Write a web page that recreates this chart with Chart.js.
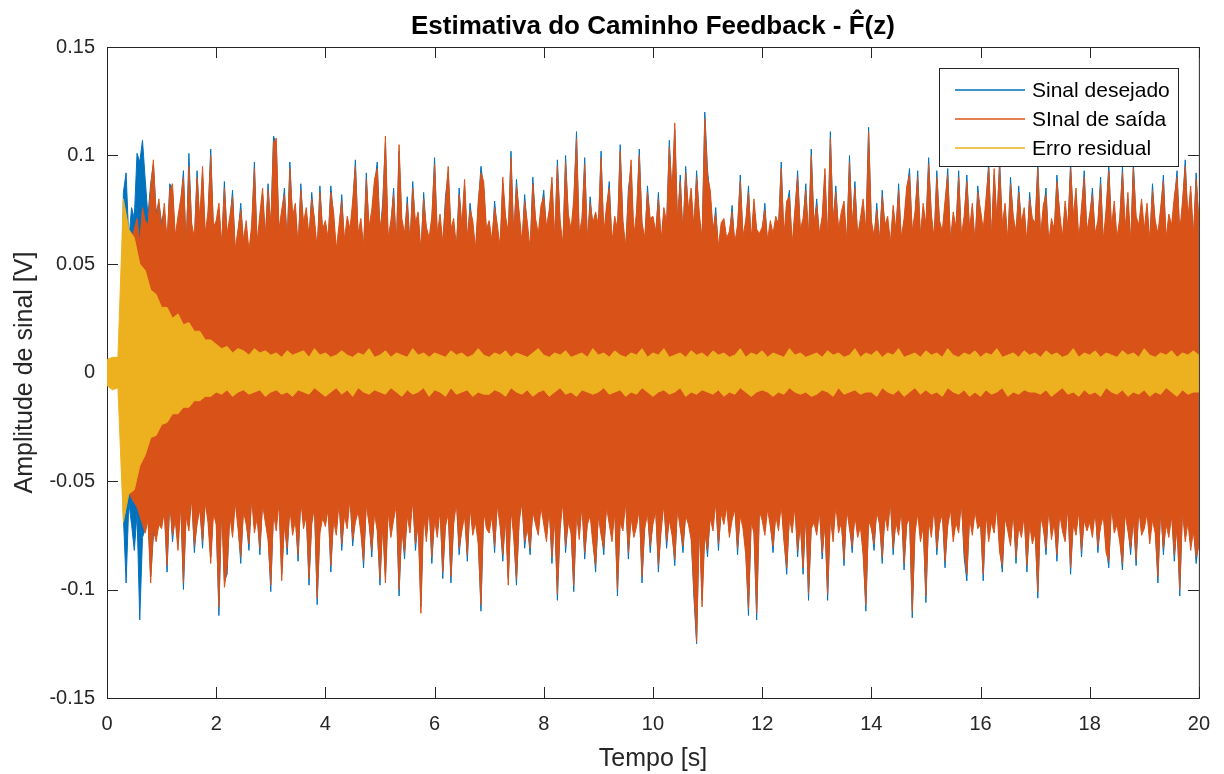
<!DOCTYPE html>
<html lang="pt-BR">
<head>
<meta charset="UTF-8">
<title>Estimativa do Caminho Feedback</title>
<script src="https://cdn.jsdelivr.net/npm/chart.js"></script>
<style>
  html, body { margin: 0; padding: 0; background: #fff; }
  #wrap { width: 1224px; height: 774px; }
</style>
</head>
<body>
<div id="wrap"><canvas id="grafico"></canvas></div>
<script>
// passo de tempo das envoltorias (s)
const passoSinal = 0.05;
const passoErro = 0.1;

const rotulos = ['Sinal desejado', 'SInal de saída', 'Erro residual'];
const cores = ['#0072BD', '#D95319', '#EDB120'];
const ticksX = [0, 2, 4, 6, 8, 10, 12, 14, 16, 18, 20];
const ticksY = [-0.15, -0.1, -0.05, 0, 0.05, 0.1, 0.15];

// Sinal desejado: picos positivos e negativos a cada 0.05 s
const desejadoPos = [
  0.005,0.006,0.004,0.006,0.005,0.006,0.083,0.092,0.061,0.076,0.071,0.101,0.097,0.107,0.089,0.072,0.087,0.096,0.074,0.078,
  0.069,0.075,0.058,0.087,0.084,0.06,0.069,0.077,0.093,0.055,0.101,0.066,0.059,0.093,0.067,0.092,0.061,0.071,0.103,0.064,
  0.067,0.075,0.056,0.088,0.061,0.069,0.084,0.054,0.063,0.078,0.058,0.067,0.053,0.065,0.097,0.057,0.07,0.082,0.06,0.087,
  0.065,0.109,0.105,0.063,0.072,0.085,0.058,0.097,0.069,0.075,0.055,0.087,0.066,0.073,0.06,0.083,0.068,0.054,0.086,0.063,
  0.067,0.059,0.086,0.071,0.054,0.065,0.082,0.058,0.069,0.063,0.076,0.098,0.061,0.068,0.055,0.092,0.064,0.072,0.086,0.097,
  0.063,0.078,0.106,0.059,0.067,0.085,0.055,0.102,0.068,0.061,0.081,0.057,0.088,0.066,0.071,0.053,0.083,0.064,0.059,0.069,
  0.099,0.061,0.07,0.057,0.081,0.092,0.063,0.068,0.055,0.085,0.065,0.086,0.059,0.078,0.067,0.054,0.076,0.095,0.085,0.063,
  0.067,0.058,0.079,0.065,0.055,0.087,0.069,0.062,0.102,0.06,0.089,0.071,0.057,0.082,0.066,0.054,0.09,0.068,0.061,0.074,
  0.084,0.064,0.072,0.087,0.059,0.098,0.067,0.056,0.1,0.07,0.063,0.077,0.111,0.061,0.068,0.099,0.058,0.081,0.066,0.071,
  0.065,0.102,0.061,0.074,0.088,0.057,0.069,0.063,0.105,0.067,0.055,0.084,0.095,0.06,0.071,0.103,0.066,0.059,0.086,0.068,
  0.069,0.062,0.083,0.058,0.073,0.066,0.107,0.08,0.112,0.067,0.091,0.061,0.095,0.072,0.082,0.064,0.093,0.07,0.059,0.12,
  0.093,0.081,0.063,0.076,0.055,0.066,0.068,0.059,0.062,0.077,0.057,0.065,0.091,0.06,0.067,0.086,0.058,0.077,0.063,0.061,
  0.064,0.078,0.058,0.067,0.061,0.069,0.065,0.097,0.06,0.076,0.084,0.056,0.072,0.093,0.063,0.068,0.087,0.059,0.103,0.066,
  0.08,0.061,0.069,0.091,0.058,0.111,0.067,0.086,0.063,0.071,0.076,0.057,0.1,0.065,0.088,0.06,0.068,0.077,0.062,0.113,
  0.067,0.06,0.078,0.058,0.084,0.065,0.069,0.057,0.074,0.063,0.087,0.059,0.068,0.083,0.094,0.062,0.071,0.093,0.06,0.075,
  0.065,0.099,0.07,0.059,0.093,0.067,0.062,0.076,0.094,0.058,0.071,0.064,0.093,0.06,0.069,0.091,0.063,0.075,0.057,0.086,
  0.072,0.063,0.077,0.097,0.059,0.091,0.067,0.098,0.065,0.075,0.058,0.09,0.069,0.062,0.086,0.066,0.073,0.057,0.083,0.068,
  0.066,0.097,0.06,0.074,0.085,0.057,0.068,0.063,0.091,0.071,0.059,0.076,0.064,0.097,0.069,0.082,0.058,0.073,0.093,0.062,
  0.07,0.085,0.061,0.067,0.09,0.058,0.072,0.096,0.064,0.076,0.059,0.068,0.095,0.063,0.08,0.057,0.097,0.069,0.065,0.077,
  0.063,0.075,0.058,0.087,0.067,0.061,0.073,0.091,0.059,0.07,0.065,0.078,0.093,0.062,0.076,0.098,0.068,0.083,0.06,0.092,
  0.067
];
const desejadoNeg = [
  -0.005,-0.006,-0.005,-0.006,-0.005,-0.006,-0.066,-0.097,-0.06,-0.07,-0.082,-0.065,-0.114,-0.076,-0.072,-0.065,-0.094,-0.075,-0.075,-0.067,
  -0.069,-0.061,-0.092,-0.057,-0.078,-0.065,-0.079,-0.058,-0.1,-0.063,-0.07,-0.055,-0.083,-0.067,-0.06,-0.081,-0.057,-0.066,-0.085,-0.062,
  -0.067,-0.112,-0.059,-0.096,-0.093,-0.063,-0.073,-0.057,-0.069,-0.088,-0.061,-0.067,-0.082,-0.055,-0.071,-0.064,-0.084,-0.058,-0.066,-0.074,
  -0.101,-0.062,-0.07,-0.057,-0.093,-0.067,-0.084,-0.06,-0.072,-0.065,-0.087,-0.056,-0.069,-0.063,-0.098,-0.067,-0.059,-0.107,-0.071,-0.064,
  -0.068,-0.06,-0.092,-0.065,-0.072,-0.057,-0.082,-0.063,-0.069,-0.055,-0.08,-0.066,-0.061,-0.071,-0.09,-0.058,-0.067,-0.085,-0.062,-0.07,
  -0.098,-0.067,-0.094,-0.061,-0.073,-0.065,-0.058,-0.103,-0.069,-0.086,-0.063,-0.071,-0.056,-0.082,-0.067,-0.108,-0.062,-0.075,-0.059,-0.088,
  -0.065,-0.073,-0.06,-0.095,-0.068,-0.062,-0.097,-0.067,-0.057,-0.084,-0.07,-0.063,-0.087,-0.059,-0.072,-0.066,-0.076,-0.11,-0.061,-0.069,
  -0.071,-0.063,-0.083,-0.058,-0.068,-0.087,-0.064,-0.095,-0.06,-0.073,-0.098,-0.066,-0.057,-0.081,-0.069,-0.084,-0.061,-0.067,-0.072,-0.059,
  -0.067,-0.075,-0.06,-0.088,-0.064,-0.105,-0.069,-0.057,-0.083,-0.066,-0.071,-0.101,-0.062,-0.074,-0.058,-0.086,-0.067,-0.063,-0.076,-0.092,
  -0.063,-0.072,-0.084,-0.059,-0.067,-0.075,-0.061,-0.103,-0.066,-0.07,-0.057,-0.086,-0.064,-0.073,-0.068,-0.06,-0.097,-0.069,-0.062,-0.083,
  -0.067,-0.061,-0.092,-0.07,-0.058,-0.081,-0.065,-0.072,-0.089,-0.06,-0.069,-0.083,-0.063,-0.067,-0.074,-0.103,-0.125,-0.066,-0.105,-0.071,
  -0.085,-0.064,-0.07,-0.057,-0.082,-0.062,-0.067,-0.059,-0.073,-0.065,-0.06,-0.084,-0.063,-0.069,-0.081,-0.112,-0.066,-0.071,-0.114,-0.061,
  -0.065,-0.072,-0.06,-0.068,-0.083,-0.063,-0.07,-0.058,-0.075,-0.093,-0.064,-0.071,-0.059,-0.085,-0.067,-0.093,-0.062,-0.105,-0.069,-0.066,
  -0.072,-0.061,-0.086,-0.067,-0.105,-0.064,-0.075,-0.058,-0.071,-0.066,-0.089,-0.06,-0.069,-0.083,-0.063,-0.073,-0.068,-0.081,-0.11,-0.065,
  -0.069,-0.082,-0.061,-0.067,-0.088,-0.063,-0.07,-0.057,-0.084,-0.066,-0.072,-0.06,-0.091,-0.067,-0.064,-0.113,-0.071,-0.062,-0.075,-0.068,
  -0.106,-0.065,-0.073,-0.059,-0.084,-0.067,-0.062,-0.09,-0.068,-0.06,-0.075,-0.066,-0.071,-0.057,-0.085,-0.096,-0.064,-0.072,-0.061,-0.069,
  -0.067,-0.096,-0.062,-0.075,-0.066,-0.071,-0.059,-0.08,-0.092,-0.064,-0.07,-0.077,-0.061,-0.088,-0.068,-0.073,-0.063,-0.092,-0.067,-0.076,
  -0.071,-0.104,-0.063,-0.069,-0.084,-0.06,-0.074,-0.066,-0.087,-0.062,-0.07,-0.075,-0.059,-0.093,-0.067,-0.072,-0.061,-0.085,-0.065,-0.07,
  -0.066,-0.073,-0.061,-0.083,-0.068,-0.063,-0.08,-0.09,-0.059,-0.071,-0.067,-0.075,-0.091,-0.062,-0.07,-0.084,-0.065,-0.089,-0.06,-0.072,
  -0.069,-0.062,-0.076,-0.065,-0.071,-0.097,-0.06,-0.084,-0.067,-0.073,-0.063,-0.087,-0.068,-0.103,-0.061,-0.075,-0.066,-0.079,-0.07,-0.088,
  -0.077
];

// Sinal de saida
const saidaPos = [
  0.004,0.005,0.003,0.006,0.004,0.005,0.045,0.052,0.058,0.062,0.066,0.071,0.06,0.076,0.07,0.068,0.085,0.098,0.071,0.08,
  0.066,0.078,0.061,0.084,0.087,0.063,0.072,0.08,0.09,0.058,0.095,0.069,0.062,0.09,0.07,0.095,0.064,0.074,0.1,0.067,
  0.07,0.078,0.059,0.085,0.064,0.072,0.081,0.057,0.066,0.075,0.061,0.07,0.056,0.068,0.094,0.06,0.073,0.085,0.063,0.084,
  0.068,0.106,0.108,0.066,0.075,0.082,0.061,0.094,0.072,0.078,0.058,0.084,0.069,0.076,0.063,0.08,0.071,0.057,0.083,0.066,
  0.07,0.062,0.083,0.074,0.057,0.068,0.079,0.061,0.072,0.066,0.079,0.095,0.064,0.071,0.058,0.089,0.067,0.075,0.089,0.094,
  0.066,0.075,0.109,0.062,0.07,0.082,0.058,0.105,0.071,0.064,0.078,0.06,0.085,0.069,0.074,0.056,0.08,0.067,0.062,0.072,
  0.096,0.064,0.073,0.06,0.078,0.095,0.066,0.071,0.058,0.082,0.068,0.089,0.062,0.075,0.07,0.057,0.079,0.092,0.088,0.066,
  0.07,0.061,0.076,0.068,0.058,0.09,0.072,0.065,0.099,0.063,0.086,0.074,0.06,0.079,0.069,0.057,0.087,0.071,0.064,0.077,
  0.081,0.067,0.075,0.09,0.062,0.095,0.07,0.059,0.097,0.073,0.066,0.08,0.108,0.064,0.071,0.096,0.061,0.078,0.069,0.074,
  0.068,0.099,0.064,0.077,0.085,0.06,0.072,0.066,0.102,0.07,0.058,0.081,0.098,0.063,0.074,0.1,0.069,0.062,0.083,0.071,
  0.072,0.065,0.08,0.061,0.076,0.069,0.104,0.083,0.115,0.07,0.088,0.064,0.092,0.075,0.085,0.067,0.09,0.073,0.062,0.117,
  0.09,0.084,0.066,0.073,0.058,0.069,0.071,0.062,0.065,0.074,0.06,0.068,0.088,0.063,0.07,0.083,0.061,0.08,0.066,0.064,
  0.067,0.075,0.061,0.07,0.064,0.072,0.068,0.094,0.063,0.079,0.081,0.059,0.075,0.09,0.066,0.071,0.084,0.062,0.1,0.069,
  0.077,0.064,0.072,0.094,0.061,0.108,0.07,0.083,0.066,0.074,0.079,0.06,0.097,0.068,0.085,0.063,0.071,0.08,0.065,0.111,
  0.07,0.063,0.075,0.061,0.081,0.068,0.072,0.06,0.077,0.066,0.084,0.062,0.071,0.086,0.091,0.065,0.074,0.09,0.063,0.078,
  0.068,0.096,0.073,0.062,0.09,0.07,0.065,0.079,0.091,0.061,0.074,0.067,0.09,0.063,0.072,0.088,0.066,0.078,0.06,0.083,
  0.075,0.066,0.08,0.094,0.062,0.094,0.07,0.095,0.068,0.078,0.061,0.087,0.072,0.065,0.083,0.069,0.076,0.06,0.08,0.071,
  0.069,0.094,0.063,0.077,0.082,0.06,0.071,0.066,0.088,0.074,0.062,0.079,0.067,0.094,0.072,0.085,0.061,0.076,0.09,0.065,
  0.073,0.082,0.064,0.07,0.087,0.061,0.075,0.093,0.067,0.079,0.062,0.071,0.092,0.066,0.083,0.06,0.094,0.072,0.068,0.08,
  0.066,0.078,0.061,0.084,0.07,0.064,0.076,0.088,0.062,0.073,0.068,0.081,0.09,0.065,0.079,0.095,0.071,0.086,0.063,0.089,
  0.07
];
const saidaNeg = [
  -0.004,-0.005,-0.004,-0.006,-0.004,-0.005,-0.045,-0.05,-0.055,-0.058,-0.06,-0.062,-0.066,-0.07,-0.074,-0.068,-0.097,-0.072,-0.078,-0.07,
  -0.072,-0.064,-0.089,-0.06,-0.075,-0.068,-0.082,-0.061,-0.097,-0.066,-0.073,-0.058,-0.08,-0.07,-0.063,-0.078,-0.06,-0.069,-0.088,-0.065,
  -0.07,-0.108,-0.062,-0.099,-0.09,-0.066,-0.076,-0.06,-0.072,-0.085,-0.064,-0.07,-0.079,-0.058,-0.074,-0.067,-0.081,-0.061,-0.069,-0.077,
  -0.098,-0.065,-0.073,-0.06,-0.096,-0.07,-0.081,-0.063,-0.075,-0.068,-0.084,-0.059,-0.072,-0.066,-0.095,-0.07,-0.062,-0.104,-0.074,-0.067,
  -0.071,-0.063,-0.089,-0.068,-0.075,-0.06,-0.079,-0.066,-0.072,-0.058,-0.077,-0.069,-0.064,-0.074,-0.087,-0.061,-0.07,-0.082,-0.065,-0.073,
  -0.095,-0.07,-0.097,-0.064,-0.076,-0.068,-0.061,-0.1,-0.072,-0.083,-0.066,-0.074,-0.059,-0.079,-0.07,-0.111,-0.065,-0.078,-0.062,-0.085,
  -0.068,-0.076,-0.063,-0.092,-0.071,-0.065,-0.094,-0.07,-0.06,-0.081,-0.073,-0.066,-0.084,-0.062,-0.075,-0.069,-0.079,-0.107,-0.064,-0.072,
  -0.074,-0.066,-0.08,-0.061,-0.071,-0.084,-0.067,-0.098,-0.063,-0.076,-0.095,-0.069,-0.06,-0.078,-0.072,-0.081,-0.064,-0.07,-0.075,-0.062,
  -0.07,-0.078,-0.063,-0.085,-0.067,-0.102,-0.072,-0.06,-0.08,-0.069,-0.074,-0.098,-0.065,-0.077,-0.061,-0.083,-0.07,-0.066,-0.079,-0.089,
  -0.066,-0.075,-0.081,-0.062,-0.07,-0.078,-0.064,-0.1,-0.069,-0.073,-0.06,-0.083,-0.067,-0.076,-0.071,-0.063,-0.094,-0.072,-0.065,-0.08,
  -0.07,-0.064,-0.089,-0.073,-0.061,-0.078,-0.068,-0.075,-0.086,-0.063,-0.072,-0.08,-0.066,-0.07,-0.077,-0.1,-0.124,-0.069,-0.108,-0.074,
  -0.082,-0.067,-0.073,-0.06,-0.079,-0.065,-0.07,-0.062,-0.076,-0.068,-0.063,-0.081,-0.066,-0.072,-0.084,-0.109,-0.069,-0.074,-0.111,-0.064,
  -0.068,-0.075,-0.063,-0.071,-0.08,-0.066,-0.073,-0.061,-0.078,-0.09,-0.067,-0.074,-0.062,-0.082,-0.07,-0.09,-0.065,-0.102,-0.072,-0.069,
  -0.075,-0.064,-0.083,-0.07,-0.102,-0.067,-0.078,-0.061,-0.074,-0.069,-0.086,-0.063,-0.072,-0.08,-0.066,-0.076,-0.071,-0.084,-0.107,-0.068,
  -0.072,-0.079,-0.064,-0.07,-0.085,-0.066,-0.073,-0.06,-0.081,-0.069,-0.075,-0.063,-0.088,-0.07,-0.067,-0.11,-0.074,-0.065,-0.078,-0.071,
  -0.103,-0.068,-0.076,-0.062,-0.081,-0.07,-0.065,-0.087,-0.071,-0.063,-0.078,-0.069,-0.074,-0.06,-0.082,-0.093,-0.067,-0.075,-0.064,-0.072,
  -0.07,-0.093,-0.065,-0.078,-0.069,-0.074,-0.062,-0.083,-0.089,-0.067,-0.073,-0.08,-0.064,-0.085,-0.071,-0.076,-0.066,-0.089,-0.07,-0.079,
  -0.074,-0.101,-0.066,-0.072,-0.081,-0.063,-0.077,-0.069,-0.084,-0.065,-0.073,-0.078,-0.062,-0.09,-0.07,-0.075,-0.064,-0.082,-0.068,-0.073,
  -0.069,-0.076,-0.064,-0.08,-0.071,-0.066,-0.083,-0.087,-0.062,-0.074,-0.07,-0.078,-0.088,-0.065,-0.073,-0.081,-0.068,-0.086,-0.063,-0.075,
  -0.072,-0.065,-0.079,-0.068,-0.074,-0.094,-0.063,-0.081,-0.07,-0.076,-0.066,-0.084,-0.071,-0.1,-0.064,-0.078,-0.069,-0.082,-0.073,-0.085,
  -0.08
];

// Erro residual: envoltoria a cada 0.1 s
const erroPos = [
  0.006,0.007,0.007,0.08,0.066,0.062,0.05,0.047,0.038,0.036,
  0.03,0.03,0.025,0.027,0.022,0.023,0.019,0.019,0.015,0.015,
  0.013,0.011,0.012,0.009,0.011,0.01,0.008,0.011,0.009,0.01,
  0.008,0.009,0.007,0.01,0.008,0.009,0.01,0.007,0.011,0.008,
  0.009,0.007,0.008,0.01,0.008,0.007,0.009,0.008,0.011,0.007,
  0.008,0.01,0.007,0.009,0.008,0.007,0.011,0.008,0.009,0.007,
  0.009,0.008,0.007,0.01,0.008,0.009,0.007,0.008,0.011,0.008,
  0.007,0.009,0.008,0.01,0.007,0.009,0.008,0.007,0.009,0.011,
  0.008,0.007,0.009,0.008,0.01,0.007,0.008,0.009,0.007,0.011,
  0.008,0.009,0.007,0.01,0.008,0.007,0.009,0.008,0.011,0.007,
  0.009,0.008,0.011,0.007,0.008,0.009,0.007,0.01,0.008,0.009,
  0.007,0.01,0.008,0.009,0.007,0.008,0.011,0.007,0.009,0.008,
  0.01,0.007,0.009,0.008,0.007,0.011,0.008,0.009,0.007,0.008,
  0.009,0.007,0.01,0.008,0.009,0.007,0.008,0.011,0.007,0.009,
  0.008,0.01,0.007,0.009,0.008,0.011,0.007,0.008,0.009,0.007,
  0.01,0.008,0.009,0.007,0.011,0.008,0.007,0.009,0.008,0.01,
  0.007,0.009,0.008,0.011,0.007,0.008,0.009,0.007,0.01,0.008,
  0.009,0.007,0.01,0.008,0.009,0.007,0.008,0.011,0.007,0.009,
  0.008,0.01,0.007,0.009,0.008,0.007,0.01,0.008,0.009,0.007,
  0.011,0.008,0.007,0.009,0.008,0.01,0.007,0.009,0.008,0.01,
  0.008
];
const erroNeg = [
  -0.006,-0.008,-0.007,-0.069,-0.056,-0.054,-0.043,-0.038,-0.03,-0.029,
  -0.024,-0.023,-0.019,-0.019,-0.016,-0.016,-0.013,-0.013,-0.011,-0.011,
  -0.009,-0.01,-0.008,-0.011,-0.009,-0.008,-0.01,-0.009,-0.008,-0.011,
  -0.009,-0.008,-0.01,-0.009,-0.011,-0.008,-0.009,-0.01,-0.007,-0.009,
  -0.011,-0.009,-0.007,-0.01,-0.008,-0.011,-0.007,-0.009,-0.01,-0.008,
  -0.009,-0.01,-0.007,-0.009,-0.011,-0.008,-0.01,-0.009,-0.007,-0.011,
  -0.008,-0.009,-0.011,-0.007,-0.01,-0.009,-0.008,-0.011,-0.009,-0.01,
  -0.01,-0.008,-0.009,-0.011,-0.007,-0.009,-0.01,-0.008,-0.011,-0.009,
  -0.008,-0.011,-0.009,-0.007,-0.01,-0.009,-0.011,-0.008,-0.009,-0.01,
  -0.009,-0.007,-0.01,-0.009,-0.008,-0.011,-0.009,-0.01,-0.007,-0.009,
  -0.011,-0.009,-0.008,-0.01,-0.009,-0.007,-0.011,-0.009,-0.01,-0.008,
  -0.009,-0.01,-0.008,-0.011,-0.009,-0.01,-0.007,-0.009,-0.011,-0.009,
  -0.008,-0.009,-0.011,-0.009,-0.01,-0.007,-0.009,-0.01,-0.009,-0.011,
  -0.01,-0.008,-0.009,-0.011,-0.007,-0.01,-0.009,-0.008,-0.01,-0.009,
  -0.009,-0.011,-0.007,-0.009,-0.01,-0.008,-0.011,-0.009,-0.007,-0.01,
  -0.008,-0.01,-0.009,-0.011,-0.007,-0.009,-0.01,-0.008,-0.011,-0.009,
  -0.011,-0.008,-0.01,-0.009,-0.007,-0.011,-0.009,-0.01,-0.008,-0.009,
  -0.009,-0.01,-0.008,-0.011,-0.009,-0.007,-0.01,-0.009,-0.011,-0.008,
  -0.01,-0.009,-0.011,-0.007,-0.009,-0.01,-0.008,-0.011,-0.009,-0.01,
  -0.008,-0.011,-0.009,-0.01,-0.007,-0.009,-0.011,-0.008,-0.01,-0.009,
  -0.009
];

const fonte = '"Liberation Sans", Arial, Helvetica, sans-serif';
const corEixo = '#262626';

function pontos(valores, passo) {
  return valores.map((v, i) => ({ x: Math.round(i * passo * 1000) / 1000, y: v }));
}

function serie(rotulo, valores, passo, cor, preencher, ordem) {
  return {
    label: rotulo,
    data: pontos(valores, passo),
    borderColor: cor,
    backgroundColor: cor,
    borderWidth: 1,
    borderJoinStyle: 'bevel',
    fill: preencher ? '+1' : false,
    order: ordem,
    pointRadius: 0,
    tension: 0
  };
}

// caixa do eixo e marcas para dentro (estilo MATLAB)
const moldura = {
  id: 'moldura',
  beforeDatasetsDraw(chart) {
    const { ctx, chartArea: a, scales } = chart;
    const tam = 11;
    ctx.save();
    ctx.strokeStyle = corEixo;
    ctx.lineWidth = 1;
    ctx.beginPath();
    ticksX.forEach(v => {
      const x = Math.round(scales.x.getPixelForValue(v)) + 0.5;
      ctx.moveTo(x, a.bottom); ctx.lineTo(x, a.bottom - tam);
      ctx.moveTo(x, a.top); ctx.lineTo(x, a.top + tam);
    });
    ticksY.forEach(v => {
      const y = Math.round(scales.y.getPixelForValue(v)) + 0.5;
      ctx.moveTo(a.left, y); ctx.lineTo(a.left + tam, y);
      ctx.moveTo(a.right, y); ctx.lineTo(a.right - tam, y);
    });
    ctx.stroke();
    ctx.strokeRect(a.left + 0.5, a.top + 0.5, a.right - a.left, a.bottom - a.top);
    ctx.restore();
  }
};

// titulo, nomes dos eixos e legenda dentro da area do grafico
const textos = {
  id: 'textos',
  afterDraw(chart) {
    const { ctx, chartArea: a } = chart;
    const meio = (a.left + a.right) / 2;
    ctx.save();
    ctx.fillStyle = '#000';
    ctx.textAlign = 'center';
    ctx.textBaseline = 'alphabetic';
    ctx.font = 'bold 26px ' + fonte;
    ctx.fillText('Estimativa do Caminho Feedback - F\u0302(z)', meio, 34);

    ctx.fillStyle = corEixo;
    ctx.font = '25px ' + fonte;
    ctx.fillText('Tempo [s]', meio, 766);
    ctx.save();
    ctx.translate(32, (a.top + a.bottom) / 2);
    ctx.rotate(-Math.PI / 2);
    ctx.fillText('Amplitude de sinal [V]', 0, 0);
    ctx.restore();

    // legenda
    const bx = 939, by = 68, bw = 239, bh = 98;
    ctx.fillStyle = '#fff';
    ctx.fillRect(bx, by, bw, bh);
    ctx.strokeStyle = corEixo;
    ctx.lineWidth = 1;
    ctx.strokeRect(bx + 0.5, by + 0.5, bw, bh);
    ctx.font = '21px ' + fonte;
    ctx.textAlign = 'left';
    ctx.textBaseline = 'middle';
    rotulos.forEach((r, i) => {
      const y = 90 + i * 29;
      ctx.strokeStyle = cores[i];
      ctx.lineWidth = 1.5;
      ctx.beginPath();
      ctx.moveTo(955, y);
      ctx.lineTo(1025, y);
      ctx.stroke();
      ctx.fillStyle = '#000';
      ctx.fillText(r, 1032, y + 1);
    });
    ctx.restore();
  }
};

const ctx = document.getElementById('grafico').getContext('2d');
new Chart(ctx, {
  type: 'line',
  data: {
    datasets: [
      serie(rotulos[0], desejadoPos, passoSinal, cores[0], true, 3),
      serie(rotulos[0], desejadoNeg, passoSinal, cores[0], false, 3),
      serie(rotulos[1], saidaPos, passoSinal, cores[1], true, 2),
      serie(rotulos[1], saidaNeg, passoSinal, cores[1], false, 2),
      serie(rotulos[2], erroPos, passoErro, cores[2], true, 1),
      serie(rotulos[2], erroNeg, passoErro, cores[2], false, 1)
    ]
  },
  options: {
    responsive: true,
    maintainAspectRatio: false,
    animation: false,
    layout: { padding: { left: 0, right: 22, top: 47, bottom: 0 } },
    plugins: {
      legend: { display: false },
      tooltip: { enabled: false },
      title: { display: false }
    },
    scales: {
      x: {
        type: 'linear',
        min: 0,
        max: 20,
        afterBuildTicks: s => { s.ticks = ticksX.map(v => ({ value: v })); },
        afterFit: s => { s.height = 76; },
        grid: { display: false, drawTicks: false },
        border: { display: false },
        ticks: {
          padding: 14,
          maxRotation: 0,
          autoSkip: false,
          color: corEixo,
          font: { family: fonte, size: 20 },
          callback: v => String(v)
        }
      },
      y: {
        type: 'linear',
        min: -0.15,
        max: 0.15,
        afterBuildTicks: s => { s.ticks = ticksY.map(v => ({ value: v })); },
        afterFit: s => { s.width = 107; },
        grid: { display: false, drawTicks: false },
        border: { display: false },
        ticks: {
          padding: 12,
          autoSkip: false,
          color: corEixo,
          font: { family: fonte, size: 20 },
          callback: v => String(v)
        }
      }
    }
  },
  plugins: [moldura, textos]
});
</script>
</body>
</html>
